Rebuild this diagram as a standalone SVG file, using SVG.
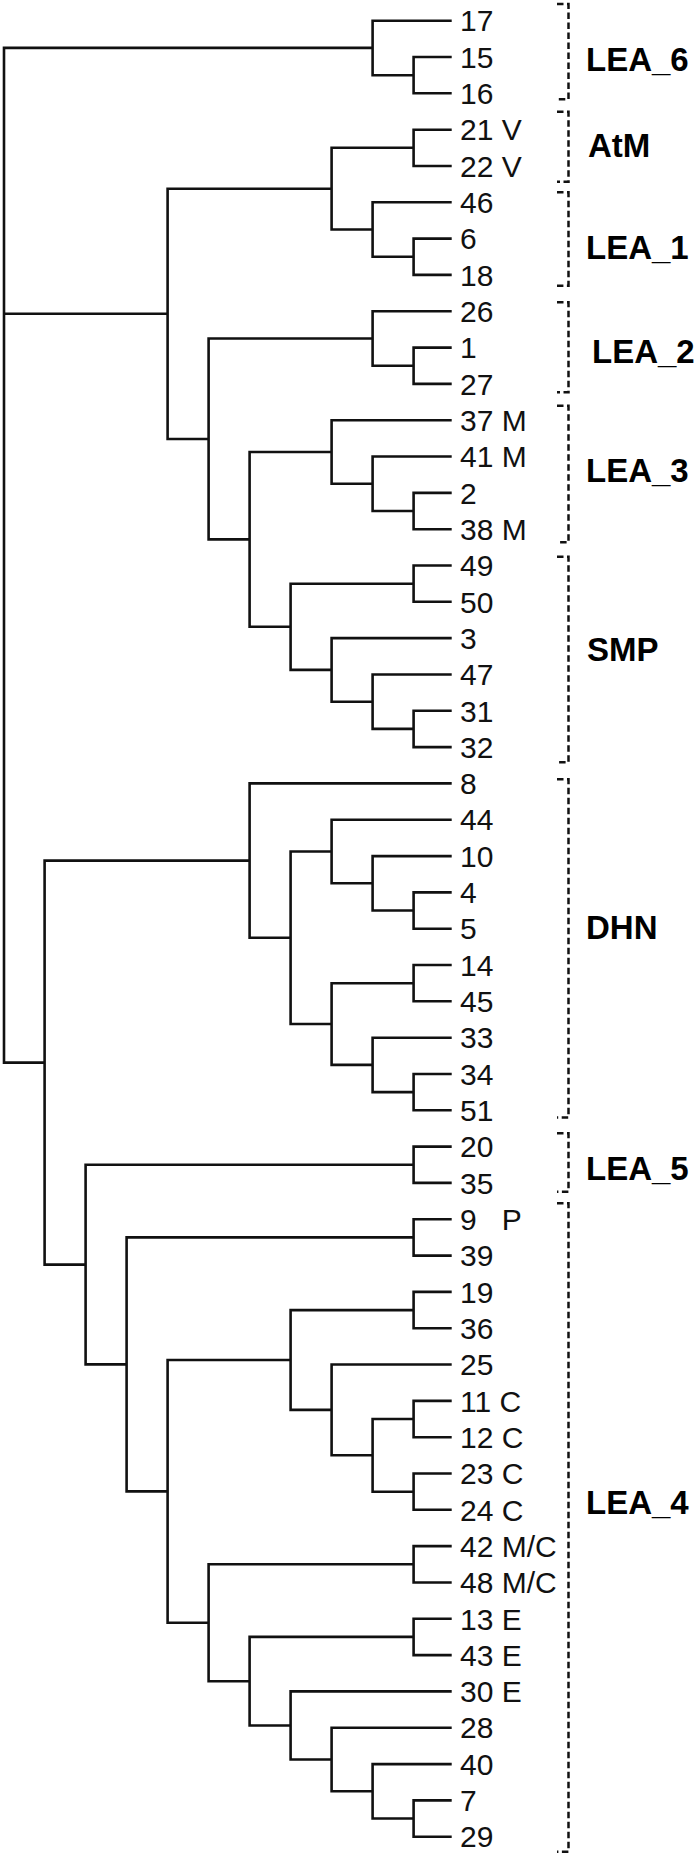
<svg xmlns="http://www.w3.org/2000/svg" width="697" height="1856" viewBox="0 0 697 1856">
<style>
.br{fill:none;stroke:#111;stroke-width:2.6;stroke-linejoin:miter;stroke-linecap:butt}
.bk{fill:none;stroke:#111;stroke-width:2.5;stroke-dasharray:6.5 3.5}
.lf{font-family:"Liberation Sans",Arial,sans-serif;font-size:30px;fill:#111}
.cl{font-family:"Liberation Sans",Arial,sans-serif;font-size:33px;font-weight:bold;fill:#000}
</style>
<rect width="697" height="1856" fill="#fff"/>
<g id="connectors">
<path class="br" d="M372.6,47.9 H4 V1062.6 H44.6 M4,313.8 H167.6"/>
<path class="br" d="M451.7,20.7 H372.6 V75.2 H413.6"/>
<path class="br" d="M451.7,57.0 H413.6 V93.3 H451.7"/>
<path class="br" d="M331.6,188.7 H167.6 V439.0 H208.6"/>
<path class="br" d="M413.6,147.8 H331.6 V229.5 H372.6"/>
<path class="br" d="M451.7,129.7 H413.6 V166.0 H451.7"/>
<path class="br" d="M451.7,202.3 H372.6 V256.8 H413.6"/>
<path class="br" d="M451.7,238.6 H413.6 V274.9 H451.7"/>
<path class="br" d="M372.6,338.5 H208.6 V539.4 H249.6"/>
<path class="br" d="M451.7,311.3 H372.6 V365.7 H413.6"/>
<path class="br" d="M451.7,347.6 H413.6 V383.9 H451.7"/>
<path class="br" d="M331.6,452.0 H249.6 V626.8 H290.6"/>
<path class="br" d="M451.7,420.2 H331.6 V483.8 H372.6"/>
<path class="br" d="M451.7,456.5 H372.6 V511.0 H413.6"/>
<path class="br" d="M451.7,492.9 H413.6 V529.2 H451.7"/>
<path class="br" d="M413.6,583.7 H290.6 V669.9 H331.6"/>
<path class="br" d="M451.7,565.5 H413.6 V601.8 H451.7"/>
<path class="br" d="M451.7,638.1 H331.6 V701.7 H372.6"/>
<path class="br" d="M451.7,674.5 H372.6 V728.9 H413.6"/>
<path class="br" d="M451.7,710.8 H413.6 V747.1 H451.7"/>
<path class="br" d="M249.6,860.6 H44.6 V1264.6 H85.6"/>
<path class="br" d="M451.7,783.4 H249.6 V937.8 H290.6"/>
<path class="br" d="M331.6,851.5 H290.6 V1024.0 H331.6"/>
<path class="br" d="M451.7,819.7 H331.6 V883.3 H372.6"/>
<path class="br" d="M451.7,856.1 H372.6 V910.5 H413.6"/>
<path class="br" d="M451.7,892.4 H413.6 V928.7 H451.7"/>
<path class="br" d="M413.6,983.2 H331.6 V1064.9 H372.6"/>
<path class="br" d="M451.7,965.0 H413.6 V1001.3 H451.7"/>
<path class="br" d="M451.7,1037.7 H372.6 V1092.1 H413.6"/>
<path class="br" d="M451.7,1074.0 H413.6 V1110.3 H451.7"/>
<path class="br" d="M413.6,1164.8 H85.6 V1364.4 H126.6"/>
<path class="br" d="M451.7,1146.6 H413.6 V1182.9 H451.7"/>
<path class="br" d="M413.6,1237.4 H126.6 V1491.4 H167.6"/>
<path class="br" d="M451.7,1219.3 H413.6 V1255.6 H451.7"/>
<path class="br" d="M290.6,1360.0 H167.6 V1622.8 H208.6"/>
<path class="br" d="M413.6,1310.1 H290.6 V1409.9 H331.6"/>
<path class="br" d="M451.7,1291.9 H413.6 V1328.2 H451.7"/>
<path class="br" d="M451.7,1364.5 H331.6 V1455.3 H372.6"/>
<path class="br" d="M413.6,1419.0 H372.6 V1491.7 H413.6"/>
<path class="br" d="M451.7,1400.9 H413.6 V1437.2 H451.7"/>
<path class="br" d="M451.7,1473.5 H413.6 V1509.8 H451.7"/>
<path class="br" d="M413.6,1564.3 H208.6 V1681.2 H249.6"/>
<path class="br" d="M451.7,1546.1 H413.6 V1582.5 H451.7"/>
<path class="br" d="M413.6,1636.9 H249.6 V1725.5 H290.6"/>
<path class="br" d="M451.7,1618.8 H413.6 V1655.1 H451.7"/>
<path class="br" d="M451.7,1691.4 H290.6 V1759.5 H331.6"/>
<path class="br" d="M451.7,1727.7 H331.6 V1791.3 H372.6"/>
<path class="br" d="M451.7,1764.1 H372.6 V1818.5 H413.6"/>
<path class="br" d="M451.7,1800.4 H413.6 V1836.7 H451.7"/>
</g>
<g id="leaves">
<g id="leaf-17"><text class="lf" x="460" y="31.4">17</text></g>
<g id="leaf-15"><text class="lf" x="460" y="67.7">15</text></g>
<g id="leaf-16"><text class="lf" x="460" y="104.0">16</text></g>
<g id="leaf-21"><text class="lf" x="460" y="140.4">21 V</text></g>
<g id="leaf-22"><text class="lf" x="460" y="176.7">22 V</text></g>
<g id="leaf-46"><text class="lf" x="460" y="213.0">46</text></g>
<g id="leaf-6"><text class="lf" x="460" y="249.3">6</text></g>
<g id="leaf-18"><text class="lf" x="460" y="285.6">18</text></g>
<g id="leaf-26"><text class="lf" x="460" y="322.0">26</text></g>
<g id="leaf-1"><text class="lf" x="460" y="358.3">1</text></g>
<g id="leaf-27"><text class="lf" x="460" y="394.6">27</text></g>
<g id="leaf-37"><text class="lf" x="460" y="430.9">37 M</text></g>
<g id="leaf-41"><text class="lf" x="460" y="467.2">41 M</text></g>
<g id="leaf-2"><text class="lf" x="460" y="503.6">2</text></g>
<g id="leaf-38"><text class="lf" x="460" y="539.9">38 M</text></g>
<g id="leaf-49"><text class="lf" x="460" y="576.2">49</text></g>
<g id="leaf-50"><text class="lf" x="460" y="612.5">50</text></g>
<g id="leaf-3"><text class="lf" x="460" y="648.8">3</text></g>
<g id="leaf-47"><text class="lf" x="460" y="685.2">47</text></g>
<g id="leaf-31"><text class="lf" x="460" y="721.5">31</text></g>
<g id="leaf-32"><text class="lf" x="460" y="757.8">32</text></g>
<g id="leaf-8"><text class="lf" x="460" y="794.1">8</text></g>
<g id="leaf-44"><text class="lf" x="460" y="830.4">44</text></g>
<g id="leaf-10"><text class="lf" x="460" y="866.8">10</text></g>
<g id="leaf-4"><text class="lf" x="460" y="903.1">4</text></g>
<g id="leaf-5"><text class="lf" x="460" y="939.4">5</text></g>
<g id="leaf-14"><text class="lf" x="460" y="975.7">14</text></g>
<g id="leaf-45"><text class="lf" x="460" y="1012.0">45</text></g>
<g id="leaf-33"><text class="lf" x="460" y="1048.4">33</text></g>
<g id="leaf-34"><text class="lf" x="460" y="1084.7">34</text></g>
<g id="leaf-51"><text class="lf" x="460" y="1121.0">51</text></g>
<g id="leaf-20"><text class="lf" x="460" y="1157.3">20</text></g>
<g id="leaf-35"><text class="lf" x="460" y="1193.6">35</text></g>
<g id="leaf-9"><text class="lf" x="460" y="1230.0" xml:space="preserve" style="white-space:pre">9   P</text></g>
<g id="leaf-39"><text class="lf" x="460" y="1266.3">39</text></g>
<g id="leaf-19"><text class="lf" x="460" y="1302.6">19</text></g>
<g id="leaf-36"><text class="lf" x="460" y="1338.9">36</text></g>
<g id="leaf-25"><text class="lf" x="460" y="1375.2">25</text></g>
<g id="leaf-11"><text class="lf" x="460" y="1411.6">11 C</text></g>
<g id="leaf-12"><text class="lf" x="460" y="1447.9">12 C</text></g>
<g id="leaf-23"><text class="lf" x="460" y="1484.2">23 C</text></g>
<g id="leaf-24"><text class="lf" x="460" y="1520.5">24 C</text></g>
<g id="leaf-42"><text class="lf" x="460" y="1556.8">42 M/C</text></g>
<g id="leaf-48"><text class="lf" x="460" y="1593.2">48 M/C</text></g>
<g id="leaf-13"><text class="lf" x="460" y="1629.5">13 E</text></g>
<g id="leaf-43"><text class="lf" x="460" y="1665.8">43 E</text></g>
<g id="leaf-30"><text class="lf" x="460" y="1702.1">30 E</text></g>
<g id="leaf-28"><text class="lf" x="460" y="1738.4">28</text></g>
<g id="leaf-40"><text class="lf" x="460" y="1774.8">40</text></g>
<g id="leaf-7"><text class="lf" x="460" y="1811.1">7</text></g>
<g id="leaf-29"><text class="lf" x="460" y="1847.4">29</text></g>
</g>
<g id="clades">
<g id="clade-LEA_6"><path class="bk" d="M557,4 H568.5 V99.3 H557"/><text class="cl" x="586" y="70.7">LEA_6</text></g>
<g id="clade-AtM"><path class="bk" d="M557,111.7 H568.5 V181.7 H557"/><text class="cl" x="588" y="157">AtM</text></g>
<g id="clade-LEA_1"><path class="bk" d="M557,192.3 H568.5 V285.7 H557"/><text class="cl" x="586" y="259">LEA_1</text></g>
<g id="clade-LEA_2"><path class="bk" d="M557,302.3 H568.5 V392.3 H557"/><text class="cl" x="592" y="363">LEA_2</text></g>
<g id="clade-LEA_3"><path class="bk" d="M557,405.7 H568.5 V542.3 H557"/><text class="cl" x="586" y="482">LEA_3</text></g>
<g id="clade-SMP"><path class="bk" d="M557,556.7 H568.5 V762.3 H557"/><text class="cl" x="587" y="661">SMP</text></g>
<g id="clade-DHN"><path class="bk" d="M557,779.3 H568.5 V1117.5 H557"/><text class="cl" x="586" y="939">DHN</text></g>
<g id="clade-LEA_5"><path class="bk" d="M557,1133.3 H568.5 V1191.7 H557"/><text class="cl" x="586" y="1180">LEA_5</text></g>
<g id="clade-LEA_4"><path class="bk" d="M557,1203.3 H568.5 V1851.7 H557"/><text class="cl" x="586" y="1514">LEA_4</text></g>
</g>
</svg>
